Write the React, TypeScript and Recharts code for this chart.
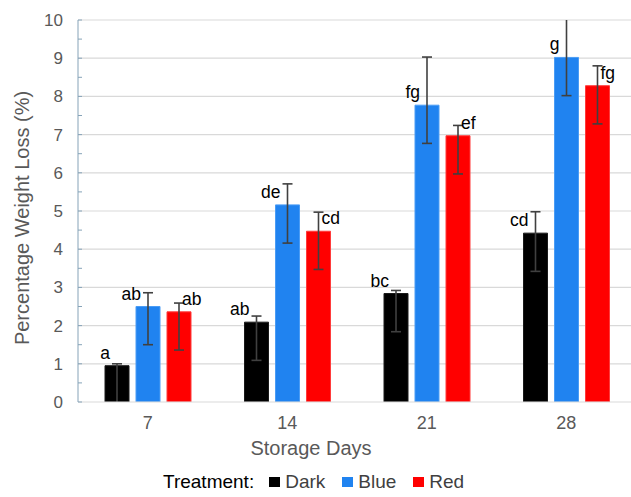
import React from "react";
import {
  BarChart,
  Bar,
  XAxis,
  YAxis,
  CartesianGrid,
  ErrorBar,
  LabelList,
} from "recharts";

const categories = ["7", "14", "21", "28"];
const dark = [0.95, 2.09, 2.84, 4.42];
const blue = [2.5, 5.16, 7.77, 9.02];
const red = [2.36, 4.47, 6.97, 8.28];
const darkErrUp = [0.05, 0.16, 0.08, 0.56];
const blueErrUp = [0.36, 0.55, 1.26, 1.1];
const redErrUp = [0.23, 0.5, 0.27, 0.52];
const errDown = [1.0, 1.0, 1.0, 1.0];
const darkLetters = ["a", "ab", "bc", "cd"];
const blueLetters = ["ab", "de", "fg", "g"];
const redLetters = ["ab", "cd", "ef", "fg"];
const yTicks = [0, 0.5, 1, 1.5, 2, 2.5, 3, 3.5, 4, 4.5, 5, 5.5, 6, 6.5, 7, 7.5, 8, 8.5, 9, 9.5, 10];
const gridValues = [1, 2, 3, 4, 5, 6, 7, 8, 9, 10];

const series = [
  { key: "dark", name: "Dark", color: "#000000", stroke: "#1a1a1a" },
  { key: "blue", name: "Blue", color: "#2083f0", stroke: "#4a9cf5" },
  { key: "red", name: "Red", color: "#ff0000", stroke: "#ff3b3b" },
];

const data = categories.map((day, i) => ({
  day,
  dark: dark[i],
  blue: blue[i],
  red: red[i],
  darkErr: [errDown[i], darkErrUp[i]],
  blueErr: [errDown[i], blueErrUp[i]],
  redErr: [errDown[i], redErrUp[i]],
  darkLbl: darkLetters[i],
  blueLbl: blueLetters[i],
  redLbl: redLetters[i],
}));

const FONT = "'Liberation Sans', Arial, sans-serif";
const AXIS_BLUE = "#86a3b8";

const YTick = (props: any) => {
  const { x, y, payload } = props;
  const v = payload.value;
  const major = Number.isInteger(v);
  return (
    <g>
      <line x1={x} x2={x + 4} y1={y} y2={y} stroke={AXIS_BLUE} strokeWidth={1} />
      {major && (
        <text x={x - 15} y={y} dy={6} textAnchor="end" fill="#595959" fontSize={17} fontFamily={FONT}>
          {v}
        </text>
      )}
    </g>
  );
};

const XTick = (props: any) => {
  const { x, y, payload } = props;
  return (
    <text x={x} y={y + 27} textAnchor="middle" fill="#595959" fontSize={18} fontFamily={FONT}>
      {payload.value}
    </text>
  );
};

const makeLabel = (side: "left" | "right") => (props: any) => {
  const { x, y, width, value } = props;
  const cx = x + width / 2;
  return (
    <text
      x={side === "left" ? cx - 7 : cx + 3}
      y={y - 7}
      textAnchor={side === "left" ? "end" : "start"}
      fill="#000000"
      fontSize={17.5}
      fontFamily={FONT}
    >
      {value}
    </text>
  );
};

const YLabel = () => (
  <text
    x={22}
    y={218}
    transform="rotate(-90 22 218)"
    textAnchor="middle"
    dominantBaseline="central"
    fill="#595959"
    fontSize={20}
    fontFamily={FONT}
  >
    Percentage Weight Loss (%)
  </text>
);

const XLabel = () => (
  <text x={311} y={455} textAnchor="middle" fill="#595959" fontSize={20} fontFamily={FONT}>
    Storage Days
  </text>
);

export default function App() {
  return (
    <div style={{ position: "fixed", left: 0, top: 0, width: 631, height: 497, overflow: "hidden", background: "#fff" }}>
      <BarChart
        width={640}
        height={497}
        data={data}
        margin={{ top: 20, right: 4, left: 0, bottom: 65 }}
        barSize={24}
        barGap={7}
      >
        <CartesianGrid vertical={false} horizontalValues={gridValues} stroke="#d9d9d9" strokeWidth={1.2} />
        <XAxis
          dataKey="day"
          height={30}
          axisLine={{ stroke: "#d9d9d9", strokeWidth: 1.2 }}
          tickLine={false}
          tickSize={0}
          tickMargin={0}
          tick={<XTick />}
          label={<XLabel />}
        />
        <YAxis
          width={78}
          domain={[0, 10]}
          ticks={yTicks}
          interval={0}
          allowDataOverflow
          axisLine={{ stroke: AXIS_BLUE }}
          tickLine={false}
          tickSize={0}
          tickMargin={0}
          tick={<YTick />}
          label={<YLabel />}
        />
        {series.map((s) => (
          <Bar
            key={s.key}
            id={`bar-${s.key}`}
            dataKey={s.key}
            name={s.name}
            fill={s.color}
            stroke={s.stroke}
            strokeWidth={1}
            isAnimationActive={false}
          >
            <ErrorBar
              dataKey={`${s.key}Err`}
              width={5}
              strokeWidth={1.6}
              stroke="#404040"
              direction="y"
              clipPath={`url(#clipPath-bar-${s.key})`}
            />
            <LabelList dataKey={`${s.key}Lbl`} content={makeLabel(s.key === "red" ? "right" : "left")} />
          </Bar>
        ))}
      </BarChart>
      <div
        style={{
          position: "absolute",
          left: 163,
          top: 471,
          display: "flex",
          alignItems: "center",
          fontFamily: FONT,
          fontSize: 19,
          whiteSpace: "nowrap",
        }}
      >
        <span style={{ color: "#000", marginRight: 15 }}>Treatment:</span>
        {series.map((s) => (
          <span key={s.key} style={{ display: "flex", alignItems: "center", marginRight: 17, color: "#404040" }}>
            <span style={{ display: "inline-block", width: 11, height: 10, background: s.color, marginRight: 5 }} />
            {s.name}
          </span>
        ))}
      </div>
    </div>
  );
}
